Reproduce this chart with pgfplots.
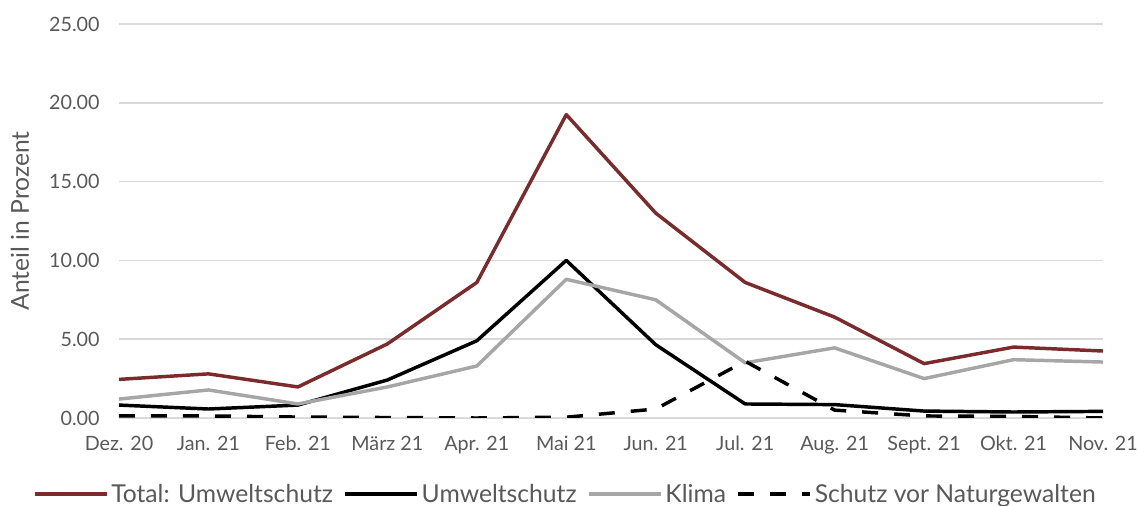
\documentclass[border=0pt]{standalone}
\usepackage{fontspec}
\setmainfont{Lato}
\usepackage{pgfplots}
\pgfplotsset{compat=1.18}
\definecolor{totred}{HTML}{7B2B2B}
\definecolor{klima}{HTML}{A6A6A6}
\definecolor{gridc}{HTML}{D9D9D9}
\definecolor{txt}{HTML}{595959}
\begin{document}
\begin{tikzpicture}
\path[use as bounding box] (-89.25pt,-66pt) rectangle (763.5pt,313.5pt);
\begin{axis}[
  at={(0,0)}, anchor=south west,
  scale only axis, width=738pt, height=295.5pt,
  xmin=0, xmax=11, ymin=0, ymax=25,
  xtick={0,...,11},
  xticklabels={Dez. 20, Jan. 21, Feb. 21, März 21, Apr. 21, Mai 21, Jun. 21, Jul. 21, Aug. 21, Sept. 21, Okt. 21, Nov. 21},
  ytick={0,5,10,15,20,25},
  ymajorgrids, major grid style={gridc, line width=1.1pt},
  axis line style={draw=none},
  major tick style={draw=none},
  tick label style={font=\fontsize{14.8}{18}\selectfont, text=txt},
  /pgf/number format/assume math mode=true,
  yticklabel style={/pgf/number format/fixed, /pgf/number format/fixed zerofill, /pgf/number format/precision=2},
  xticklabel style={yshift=-10pt},
  yticklabel style={xshift=-11pt},
  ylabel={Anteil in Prozent},
  ylabel style={font=\fontsize{18.5}{22}\selectfont, text=txt, at={(axis description cs:-0.1006,0.5)}, anchor=center},
  legend columns=4,
  legend style={draw=none, at={(axis description cs:0.454,-0.193)}, anchor=center, font=\fontsize{18.5}{22}\selectfont, text=txt,
     /tikz/every even column/.append style={column sep=6pt}},
  legend image code/.code={\draw[#1] (0pt,0pt) -- (54pt,0pt);},
  line join=round,
]
\addplot[totred, line width=2.6pt] coordinates {(0,2.45) (1,2.8) (2,1.97) (3,4.7) (4,8.6) (5,19.25) (6,13.0) (7,8.6) (8,6.4) (9,3.45) (10,4.5) (11,4.25)};
\addlegendentry{Total: Umweltschutz}
\addplot[black, line width=2.6pt] coordinates {(0,0.82) (1,0.57) (2,0.82) (3,2.41) (4,4.9) (5,10.0) (6,4.65) (7,0.89) (8,0.85) (9,0.44) (10,0.38) (11,0.42)};
\addlegendentry{Umweltschutz}
\addplot[klima, line width=2.6pt] coordinates {(0,1.2) (1,1.78) (2,0.89) (3,1.97) (4,3.3) (5,8.8) (6,7.5) (7,3.5) (8,4.45) (9,2.5) (10,3.7) (11,3.55)};
\addlegendentry{Klima}
\addplot[black, line width=2.6pt, dash pattern=on 12pt off 12pt] coordinates {(0,0.13) (1,0.13) (2,0.06) (3,0.03) (4,0.0) (5,0.05) (6,0.57) (7,3.6) (8,0.5) (9,0.13) (10,0.1) (11,0.0)};
\addlegendentry{Schutz vor Naturgewalten}
\end{axis}
\end{tikzpicture}
\end{document}
